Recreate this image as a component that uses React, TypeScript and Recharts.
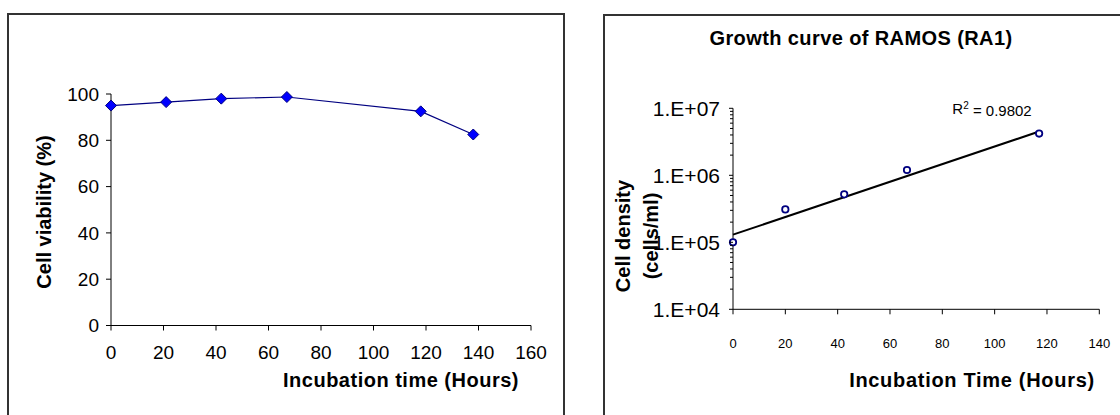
import { LineChart, Line, XAxis, YAxis, Label, ReferenceDot } from 'recharts'

// Left chart: viability over incubation time
const viabilityHours = [0, 21, 42, 67, 118, 138]
const viabilityPct = [95, 96.5, 98, 98.7, 92.5, 82.5]
const viabilityTicksX = [0, 20, 40, 60, 80, 100, 120, 140, 160]
const viabilityTicksY = [0, 20, 40, 60, 80, 100]

// Right chart: growth curve (log scale)
const growthHours = [0, 20, 42.5, 66.5, 117]
const growthDensity = [1.0e5, 3.1e5, 5.2e5, 1.2e6, 4.2e6]
const trendHours = [0, 117]
const trendDensity = [1.3e5, 4.5e6]
const growthTicksX = [0, 20, 40, 60, 80, 100, 120, 140]
const densityDecades = [1e4, 1e5, 1e6, 1e7]
const minorSteps = [2, 3, 4, 5, 6, 7, 8, 9]

const FONT = '"Liberation Sans", Arial, sans-serif'

const viabilityData = viabilityHours.map((t, i) => ({ t, v: viabilityPct[i] }))
const growthData = growthHours.map((t, i) => ({ t, v: growthDensity[i] }))
const trendData = trendHours.map((t, i) => ({ t, v: trendDensity[i] }))

const densityTicks = densityDecades
  .flatMap((d, i) => (i < densityDecades.length - 1 ? [d, ...minorSteps.map((s) => d * s)] : [d]))

const Diamond = (props: any) => {
  const { cx, cy } = props
  if (cx == null || cy == null) return null
  const s = 5.5
  return (
    <polygon
      points={`${cx},${cy - s} ${cx + s},${cy} ${cx},${cy + s} ${cx - s},${cy}`}
      fill="#0000ff"
      stroke="#000080"
      strokeWidth={1}
    />
  )
}

const OpenCircle = (props: any) => {
  const { cx, cy } = props
  if (cx == null || cy == null) return null
  return <circle cx={cx} cy={cy} r={3.2} fill="#fff" stroke="#000080" strokeWidth={1.8} />
}

const DensityTick = (props: any) => {
  const { x, y, payload } = props
  const lg = Math.log10(payload.value)
  const exp = Math.round(lg)
  const major = Math.abs(lg - exp) < 1e-6
  return (
    <g>
      <line x1={x - (major ? 4 : 3)} x2={x} y1={y} y2={y} stroke="#000" strokeWidth={1} />
      {major && (
        <text x={x - 13} y={y} dy="0.36em" textAnchor="end" fontSize={21} fill="#000" fontFamily={FONT}>
          {`1.E+${String(exp).padStart(2, '0')}`}
        </text>
      )}
    </g>
  )
}

const titleStyle = { fontFamily: FONT, fontWeight: 700, fontSize: 20, fill: '#000' }

export default function App() {
  return (
    <div style={{ position: 'absolute', left: 0, top: 0, width: 1120, height: 415, background: '#fff', overflow: 'hidden' }}>
      <div style={{ position: 'absolute', left: 7, top: 13, width: 554, height: 420, border: '2px solid #333' }} />
      <div style={{ position: 'absolute', left: 603, top: 14, width: 540, height: 420, border: '2px solid #333' }} />

      <div style={{ position: 'absolute', left: 0, top: 0 }}>
        <LineChart width={560} height={415} data={viabilityData} margin={{ top: 94, right: 29, left: 0, bottom: 0 }}>
          <XAxis
            dataKey="t"
            type="number"
            domain={[0, 160]}
            ticks={viabilityTicksX}
            interval={0}
            height={89.5}
            tickSize={5}
            tickMargin={15}
            axisLine={{ stroke: '#000' }}
            tickLine={{ stroke: '#000' }}
            tick={{ fill: '#000', fontSize: 19, fontFamily: FONT }}
          >
            <Label
              content={() => (
                <text x={401} y={380} dy="0.35em" textAnchor="middle" letterSpacing={0.5} style={titleStyle}>
                  Incubation time (Hours)
                </text>
              )}
            />
          </XAxis>
          <YAxis
            type="number"
            domain={[0, 100]}
            ticks={viabilityTicksY}
            interval={0}
            width={111}
            tickSize={5}
            tickMargin={7}
            axisLine={{ stroke: '#000' }}
            tickLine={{ stroke: '#000' }}
            tick={{ fill: '#000', fontSize: 19, fontFamily: FONT }}
          >
            <Label
              content={() => (
                <text
                  x={44}
                  y={212}
                  dy="0.35em"
                  textAnchor="middle"
                  transform="rotate(-90 44 212)"
                  style={titleStyle}
                >
                  Cell viability (%)
                </text>
              )}
            />
          </YAxis>
          <Line
            dataKey="v"
            stroke="#000080"
            strokeWidth={1.2}
            dot={<Diamond />}
            activeDot={false}
            isAnimationActive={false}
          />
        </LineChart>
      </div>

      <div
        style={{
          position: 'absolute',
          left: 661,
          top: 25,
          width: 400,
          textAlign: 'center',
          fontFamily: FONT,
          fontWeight: 700,
          fontSize: 20,
          lineHeight: '26px',
          letterSpacing: 0.4,
        }}
      >
        Growth curve of RAMOS (RA1)
      </div>

      <div style={{ position: 'absolute', left: 560, top: 0 }}>
        <LineChart width={560} height={415} margin={{ top: 108.3, right: 20.7, left: 0, bottom: 0 }}>
          <XAxis
            dataKey="t"
            type="number"
            domain={[0, 140]}
            ticks={growthTicksX}
            interval={0}
            height={105.7}
            tickSize={5}
            tickMargin={24}
            axisLine={{ stroke: '#000' }}
            tickLine={{ stroke: '#000' }}
            tick={{ fill: '#000', fontSize: 13, fontFamily: FONT }}
            allowDuplicatedCategory={false}
          >
            <Label
              content={() => (
                <text x={412} y={380} dy="0.35em" textAnchor="middle" letterSpacing={0.7} style={titleStyle}>
                  Incubation Time (Hours)
                </text>
              )}
            />
          </XAxis>
          <YAxis
            dataKey="v"
            type="number"
            scale="log"
            domain={[1e4, 1e7]}
            ticks={densityTicks}
            interval={0}
            width={173}
            tickSize={0}
            tickMargin={0}
            tickLine={false}
            axisLine={{ stroke: '#000' }}
            tick={<DensityTick />}
            allowDataOverflow
          >
            <Label
              content={() => (
                <g>
                  <text x={63} y={236} dy="0.35em" textAnchor="middle" transform="rotate(-90 63 236)" style={titleStyle}>
                    Cell density
                  </text>
                  <text x={91} y={236} dy="0.35em" textAnchor="middle" transform="rotate(-90 91 236)" style={titleStyle}>
                    (cells/ml)
                  </text>
                </g>
              )}
            />
          </YAxis>
          <Line
            data={trendData}
            dataKey="v"
            stroke="#000"
            strokeWidth={2}
            dot={false}
            activeDot={false}
            isAnimationActive={false}
          />
          <Line
            data={growthData}
            dataKey="v"
            stroke="none"
            dot={<OpenCircle />}
            activeDot={false}
            isAnimationActive={false}
          />
          <ReferenceDot
            x={99}
            y={1e7}
            r={0}
            ifOverflow="visible"
            label={(p: any) => (
              <text x={p.viewBox ? p.viewBox.x : 0} y={p.viewBox ? p.viewBox.y : 0} dy="0.35em" textAnchor="middle" fontFamily={FONT} fontSize={15} fill="#000">
                R<tspan dy="-0.5em" fontSize={10}>2</tspan>
                <tspan dy="0.5em"> = 0.9802</tspan>
              </text>
            )}
          />
        </LineChart>
      </div>
    </div>
  )
}
